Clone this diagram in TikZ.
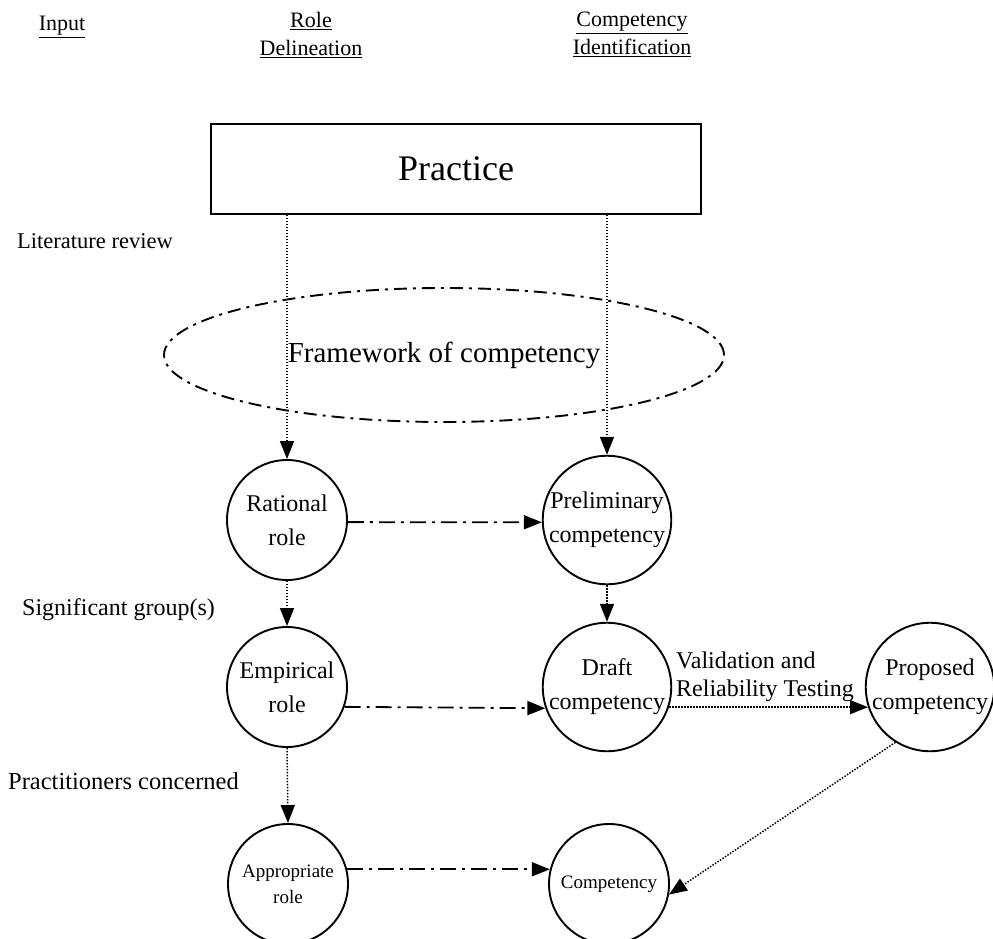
\documentclass[tikz,border=0pt]{standalone}
\usepackage{fontspec}
\setmainfont{Liberation Serif}
\usetikzlibrary{arrows.meta,shapes.geometric}
\begin{document}
\begin{tikzpicture}[x=1pt,y=-1pt,
  hdr/.style={align=center,font=\fontsize{22}{28}\selectfont,inner sep=0pt},
  lbl/.style={font=\fontsize{22}{26}\selectfont,inner sep=0pt,anchor=base west},
  roundnode/.style={circle,draw,line width=1.9pt,minimum size=120pt,inner sep=0pt,align=center,font=\fontsize{24}{34}\selectfont},
  smallround/.style={roundnode,font=\fontsize{19}{26}\selectfont},
  tip/.style={-{Triangle[length=18pt,width=14pt]}},
  dotarrow/.style={tip,line width=1.5pt,dash pattern=on 1.5pt off 1.5pt},
  dasharrow/.style={tip,line width=1.8pt,dash pattern=on 16pt off 6pt on 3pt off 6pt}
]
\useasboundingbox (0,0) rectangle (993,939);

% headers
\node[hdr,anchor=base] (hin) at (62,31) {\underline{Input}};
\node[hdr,anchor=north] (hrole) at (311,12) {\underline{Role}\\\underline{Delineation}};
\node[hdr,anchor=north] (hcomp) at (632,12) {\underline{Competency}\\\underline{Identification}};

% practice box
\node[draw,line width=1.8pt,minimum width=490pt,minimum height=90pt,inner sep=0pt,font=\fontsize{36}{42}\selectfont] (practice) at (456,169) {Practice};

% labels
\node[lbl,font=\fontsize{22.5}{26}\selectfont] (lit) at (17,248) {Literature review};
\node[lbl,font=\fontsize{24}{28}\selectfont] (sig) at (22,615) {Significant group(s)};
\node[lbl,font=\fontsize{24.5}{28}\selectfont] (prac) at (8,789) {Practitioners concerned};

% framework ellipse
\node[ellipse,draw,line width=1.9pt,dash pattern=on 13pt off 6pt on 3pt off 6pt,minimum width=560pt,minimum height=134pt,inner sep=0pt,font=\fontsize{29}{34}\selectfont] (frame) at (444,355) {Framework of competency};

% circles
\node[roundnode] (rational) at (287,520) {Rational\\role};
\node[roundnode] (prelim) at (607,520) {Preliminary\\competency};
\node[roundnode] (empirical) at (287,687) {Empirical\\role};
\node[roundnode] (draft) at (607,687) {Draft\\competency};
\node[roundnode] (proposed) at (930,687) {Proposed\\competency};
\node[smallround] (approp) at (288,884) {Appropriate\\role};
\node[smallround] (comp) at (609,884) {Competency};

% validation label
\node[font=\fontsize{24}{28}\selectfont,align=left,anchor=west,inner sep=0pt] (valid) at (676,677) {Validation and\\Reliability Testing};

% connectors
\draw[dotarrow] (practice.south -| rational) -- (rational.north);
\draw[dotarrow] (practice.south -| prelim) -- (prelim.north);
\draw[dotarrow] (rational.south) -- (empirical.north);
\draw[dotarrow] (prelim.south) -- (draft.north);
\draw[dotarrow] (empirical.south) -- (approp.north);
\draw[dasharrow] (rational.-2) -- (prelim.182);
\draw[dasharrow] (empirical.-19) -- (draft.199);
\draw[dasharrow] (approp.14) -- (comp.166);
\draw[dotarrow] (draft.-18) -- (proposed.198);
\draw[dotarrow] (proposed.-122) -- (comp.-10);
\end{tikzpicture}
\end{document}
